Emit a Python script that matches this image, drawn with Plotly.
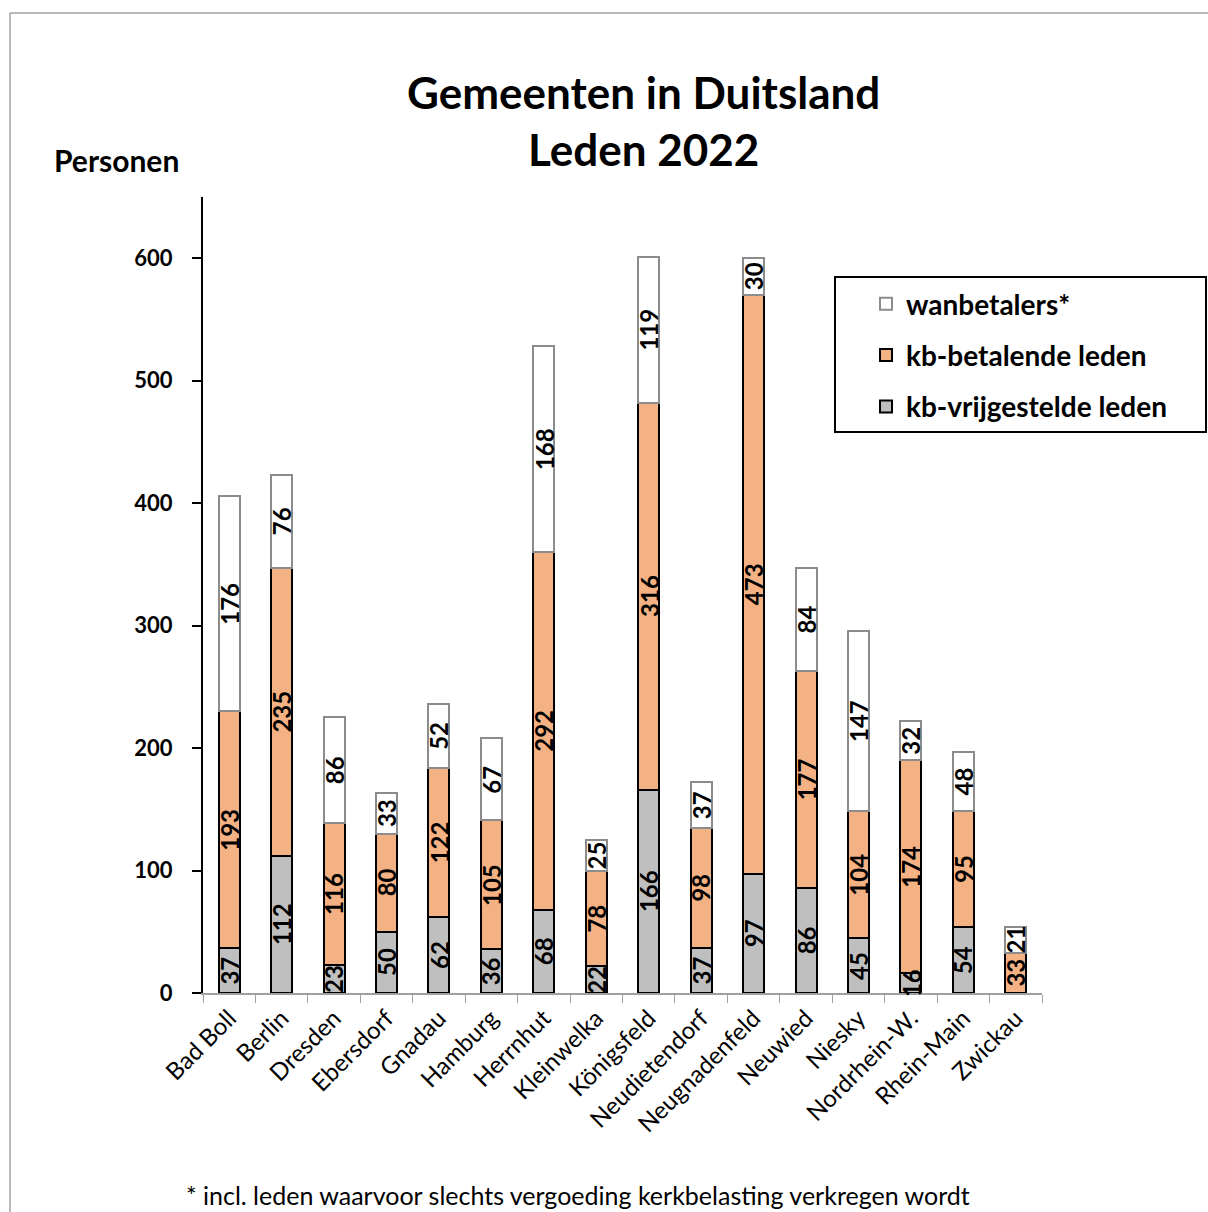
import plotly.graph_objects as go

categories = ["Bad Boll", "Berlin", "Dresden", "Ebersdorf", "Gnadau", "Hamburg", "Herrnhut",
              "Kleinwelka", "Königsfeld", "Neudietendorf", "Neugnadenfeld", "Neuwied", "Niesky",
              "Nordrhein-W.", "Rhein-Main", "Zwickau"]
vrijgesteld = [37, 112, 23, 50, 62, 36, 68, 22, 166, 37, 97, 86, 45, 16, 54, 0]
betalend = [193, 235, 116, 80, 122, 105, 292, 78, 316, 98, 473, 177, 104, 174, 95, 33]
wanbetalers = [176, 76, 86, 33, 52, 67, 168, 25, 119, 37, 30, 84, 147, 32, 48, 21]
yticks = [0, 100, 200, 300, 400, 500, 600]

FONT = "Lato"
W, H = 1208, 1212
L, R, T, B = 203, 1042, 197, 993
PW, PH = R - L, B - T


def px(x):
    return (x - L) / PW


def py(y):
    return (B - y) / PH


fig = go.Figure()
series = [
    ("kb-vrijgestelde leden", vrijgesteld, "#BFBFBF", "#000000", 3),
    ("kb-betalende leden", betalend, "#F4B183", "#000000", 2),
    ("wanbetalers*", wanbetalers, "#FFFFFF", "#8C8C8C", 1),
]
for name, vals, col, lc, rank in series:
    fig.add_trace(go.Bar(
        x=categories, y=vals, name=name, legendgroup=name, legendrank=rank,
        marker=dict(color=col, line=dict(color=lc, width=2)),
        textposition="none",
    ))

annotations = []
base = [0] * len(categories)
for name, vals, col, lc, rank in series:
    for i, v in enumerate(vals):
        if v > 0:
            annotations.append(dict(
                x=categories[i], y=base[i] + v / 2, xref="x", yref="y",
                xanchor="center", yanchor="middle",
                text=f"<b>{v}</b>", textangle=-90, showarrow=False,
                font=dict(family=FONT, size=24, color="black"),
            ))
        base[i] += v

annotations += [
    dict(x=px(643), y=py(121), xref="paper", yref="paper", xanchor="center", yanchor="middle",
         text="<b>Gemeenten in Duitsland<br>Leden 2022</b>", showarrow=False,
         font=dict(family=FONT, size=44, color="black"), align="center"),
    dict(x=px(116), y=py(160), xref="paper", yref="paper", xanchor="center", yanchor="middle",
         text="<b>Personen</b>", showarrow=False,
         font=dict(family=FONT, size=30, color="black")),
    dict(x=px(578), y=py(1195), xref="paper", yref="paper", xanchor="center", yanchor="middle",
         text="* incl. leden waarvoor slechts vergoeding kerkbelasting verkregen wordt",
         showarrow=False, font=dict(family=FONT, size=25, color="black")),
]

shapes = [
    dict(type="line", xref="paper", yref="paper", x0=px(10), y0=py(13), x1=px(1215), y1=py(13),
         line=dict(color="#A0A0A0", width=1.5)),
    dict(type="line", xref="paper", yref="paper", x0=px(10), y0=py(13), x1=px(10), y1=py(1220),
         line=dict(color="#A0A0A0", width=1.5)),
    dict(type="rect", xref="paper", yref="paper", x0=px(835), y0=py(277), x1=px(1206), y1=py(432),
         line=dict(color="black", width=2), fillcolor="rgba(0,0,0,0)"),
]

fig.update_layout(
    width=W, height=H,
    margin=dict(l=L, r=W - R, t=T, b=H - B),
    paper_bgcolor="white", plot_bgcolor="white",
    barmode="stack", bargap=0.6,
    font=dict(family=FONT, color="black"),
    annotations=annotations, shapes=shapes,
    legend=dict(
        x=px(866), y=py(279), xanchor="left", yanchor="top",
        traceorder="grouped", tracegroupgap=12,
        borderwidth=0, bgcolor="rgba(0,0,0,0)",
        font=dict(family=FONT, size=28, color="black", weight="bold"),
    ),
    showlegend=True,
)
fig.update_xaxes(
    type="category", showline=True, linecolor="#A0A0A0", linewidth=1.5,
    ticks="outside", tickson="boundaries", ticklen=8, tickcolor="#A0A0A0",
    tickangle=-45, tickfont=dict(family=FONT, size=24, color="black"),
    showgrid=False,
)
fig.update_yaxes(
    range=[0, 650], tickvals=yticks, ticktext=[f"<b>{t}</b>" for t in yticks],
    showline=True, linecolor="black", linewidth=2,
    ticks="outside", ticklen=9, tickcolor="black", tickwidth=2,
    ticklabelstandoff=15,
    tickfont=dict(family=FONT, size=22, color="black"),
    showgrid=False, zeroline=False,
)

fig.write_html(
    "out.html",
    config={"displayModeBar": False},
    post_script="document.body.style.margin='0';document.body.style.overflow='hidden';",
)
